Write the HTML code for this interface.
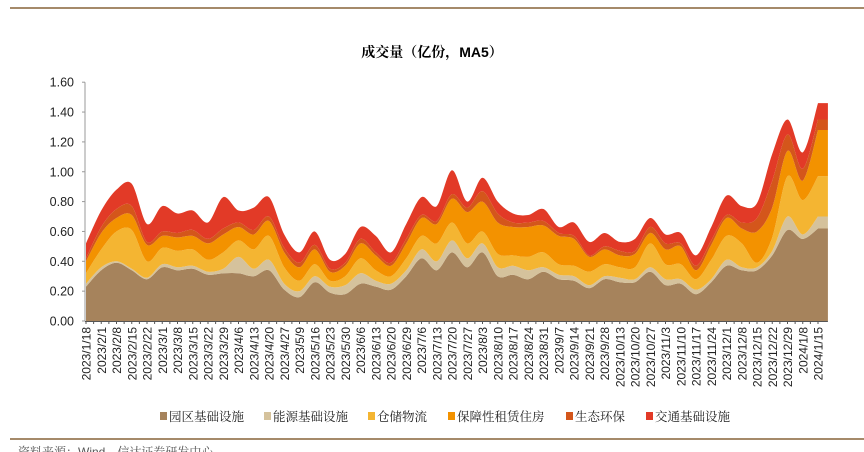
<!DOCTYPE html>
<html><head><meta charset="utf-8"><style>
html,body{margin:0;padding:0;background:#fff;}
body{width:864px;height:452px;overflow:hidden;position:relative;font-family:"Liberation Sans","Noto Sans CJK SC",sans-serif;}
</style></head><body>
<svg id="chart" width="864" height="452" xmlns="http://www.w3.org/2000/svg" style="position:absolute;left:0;top:0">
<line x1="10" y1="8" x2="864" y2="8" stroke="#A58A6A" stroke-width="2"/>
<text x="432" y="57" text-anchor="middle" font-size="14" font-weight="bold" font-family="'Liberation Sans','Noto Serif CJK SC',serif">成交量（亿份，MA5）</text>
<g id="plot"></g>
<g id="axes"></g>
<g id="legend"></g>
<line x1="10" y1="439" x2="864" y2="439" stroke="#A58A6A" stroke-width="2"/>
<text x="18" y="456" font-size="12" fill="#555" font-family="'Liberation Sans','Noto Serif CJK SC',serif">资料来源：Wind，信达证券研发中心</text>
</svg>
<script>
const categories=["2023/1/18","2023/2/1","2023/2/8","2023/2/15","2023/2/22","2023/3/1","2023/3/8","2023/3/15","2023/3/22","2023/3/29","2023/4/6","2023/4/13","2023/4/20","2023/4/27","2023/5/9","2023/5/16","2023/5/23","2023/5/30","2023/6/6","2023/6/13","2023/6/20","2023/6/29","2023/7/6","2023/7/13","2023/7/20","2023/7/27","2023/8/3","2023/8/10","2023/8/17","2023/8/24","2023/8/31","2023/9/7","2023/9/14","2023/9/21","2023/9/28","2023/10/13","2023/10/20","2023/10/27","2023/11/3","2023/11/10","2023/11/17","2023/11/24","2023/12/1","2023/12/8","2023/12/15","2023/12/22","2023/12/29","2024/1/8","2024/1/15"];
const seriesNames=["园区基础设施","能源基础设施","仓储物流","保障性租赁住房","生态环保","交通基础设施"];
const seriesColors=["#A6835C","#D5C29C","#F4B532","#F39200","#D4561B","#E23A27"];
const parkValues=[0.23,0.34,0.39,0.34,0.28,0.36,0.34,0.35,0.31,0.32,0.32,0.30,0.34,0.21,0.16,0.26,0.19,0.18,0.25,0.23,0.21,0.30,0.42,0.34,0.46,0.36,0.46,0.30,0.31,0.28,0.33,0.28,0.27,0.22,0.28,0.26,0.26,0.33,0.24,0.25,0.18,0.26,0.37,0.34,0.34,0.44,0.61,0.55,0.62];
const energyValues=[0.02,0.02,0.01,0.01,0.01,0.02,0.02,0.02,0.02,0.03,0.11,0.05,0.07,0.04,0.04,0.04,0.04,0.06,0.07,0.04,0.04,0.04,0.06,0.06,0.08,0.06,0.06,0.06,0.06,0.06,0.03,0.03,0.03,0.02,0.02,0.03,0.02,0.03,0.04,0.03,0.03,0.02,0.04,0.02,0.02,0.03,0.09,0.03,0.08];
const warehouseValues=[0.07,0.12,0.20,0.26,0.11,0.11,0.11,0.11,0.08,0.11,0.11,0.13,0.16,0.11,0.07,0.08,0.04,0.06,0.10,0.07,0.05,0.08,0.09,0.12,0.12,0.10,0.08,0.09,0.07,0.09,0.10,0.07,0.07,0.09,0.08,0.07,0.08,0.16,0.10,0.10,0.07,0.13,0.16,0.16,0.03,0.09,0.27,0.23,0.27];
const housingValues=[0.08,0.11,0.09,0.10,0.11,0.08,0.09,0.09,0.11,0.12,0.09,0.10,0.10,0.10,0.09,0.10,0.06,0.07,0.10,0.10,0.07,0.10,0.12,0.13,0.16,0.21,0.20,0.21,0.19,0.20,0.18,0.19,0.18,0.10,0.10,0.08,0.09,0.07,0.10,0.12,0.06,0.10,0.12,0.10,0.21,0.20,0.17,0.13,0.31];
const ecoValues=[0.02,0.04,0.06,0.06,0.02,0.03,0.03,0.04,0.03,0.04,0.03,0.03,0.03,0.03,0.03,0.03,0.02,0.02,0.03,0.02,0.02,0.03,0.02,0.02,0.03,0.03,0.07,0.06,0.03,0.03,0.03,0.02,0.02,0.01,0.02,0.03,0.02,0.04,0.04,0.02,0.03,0.03,0.02,0.04,0.09,0.18,0.11,0.08,0.07];
const transportValues=[0.10,0.11,0.13,0.15,0.12,0.17,0.13,0.13,0.11,0.21,0.08,0.15,0.13,0.09,0.07,0.09,0.06,0.06,0.08,0.11,0.07,0.10,0.12,0.10,0.16,0.04,0.09,0.08,0.06,0.05,0.08,0.04,0.09,0.09,0.09,0.06,0.08,0.06,0.06,0.07,0.07,0.09,0.13,0.11,0.10,0.18,0.10,0.11,0.11];
const yTicks=[0,0.2,0.4,0.6,0.8,1.0,1.2,1.4,1.6];
const yTickLabels=["0.00","0.20","0.40","0.60","0.80","1.00","1.20","1.40","1.60"];

const NS="http://www.w3.org/2000/svg";
const X0=86,DX=15.25,Y0=321,YMAX_PX=82.2,YMAX=1.6;
function xScale(i){return X0+DX*i;}
function yScale(v){return Y0-(v/YMAX)*(Y0-YMAX_PX);}
function mk(tag,attrs,parent){const e=document.createElementNS(NS,tag);for(const k in attrs)e.setAttribute(k,attrs[k]);parent.appendChild(e);return e;}
function spline(pts){
  let d="";
  for(let i=0;i<pts.length-1;i++){
    const p0=pts[Math.max(0,i-1)],p1=pts[i],p2=pts[i+1],p3=pts[Math.min(pts.length-1,i+2)];
    const k=0.16;
    const c1=[p1[0]+(p2[0]-p0[0])*k,p1[1]+(p2[1]-p0[1])*k];
    const c2=[p2[0]-(p3[0]-p1[0])*k,p2[1]-(p3[1]-p1[1])*k];
    d+=" C"+c1[0].toFixed(2)+","+c1[1].toFixed(2)+" "+c2[0].toFixed(2)+","+c2[1].toFixed(2)+" "+p2[0].toFixed(2)+","+p2[1].toFixed(2);
  }
  return d;
}

const series=[parkValues,energyValues,warehouseValues,housingValues,ecoValues,transportValues];
const plot=document.getElementById('plot');
const n=categories.length;
const xEnd=n-1+0.65;
let base=new Array(n).fill(0);
series.forEach((vals,s)=>{
  const top=base.map((b,i)=>b+vals[i]);
  const tp=top.map((v,i)=>[xScale(i),yScale(v)]);
  const bp=base.map((v,i)=>[xScale(i),yScale(v)]).reverse();
  let d="M"+tp[0][0]+","+tp[0][1].toFixed(2)+spline(tp);
  d+=" L"+xScale(xEnd).toFixed(2)+","+yScale(top[n-1]).toFixed(2);
  d+=" L"+xScale(xEnd).toFixed(2)+","+yScale(base[n-1]).toFixed(2);
  d+=" L"+bp[0][0].toFixed(2)+","+bp[0][1].toFixed(2)+spline(bp);
  d+=" Z";
  const p=mk('path',{d:d,fill:seriesColors[s]},plot);
  
  
  base=top;
});

const axes=document.getElementById('axes');
const ya=mk('line',{x1:85,y1:yScale(YMAX),x2:85,y2:Y0,stroke:'#999','stroke-width':1},axes);


const xa=mk('line',{x1:85,y1:Y0+0.5,x2:xScale(xEnd),y2:Y0+0.5,stroke:'#555','stroke-width':1},axes);


yTicks.forEach((v,i)=>{
  const y=yScale(v);
  mk('line',{x1:82,y1:y,x2:85,y2:y,stroke:'#999'},axes);
  const t=mk('text',{x:74,y:y+4.5,'text-anchor':'end','font-size':12.5,fill:'#222'},axes);
  t.textContent=yTickLabels[i];
  
  
});
for(let i=0;i<n;i++){
  const x=xScale(i);
  mk('line',{x1:x,y1:Y0,x2:x,y2:Y0+3,stroke:'#555'},axes);
  if(i<n-1)mk('line',{x1:x+DX/2,y1:Y0,x2:x+DX/2,y2:Y0+3,stroke:'#555'},axes);
  const t=mk('text',{x:0,y:0,'text-anchor':'end','font-size':12,fill:'#222',transform:'translate('+(x+4.5)+',327) rotate(-90)'},axes);
  t.textContent=categories[i];
  
  
}

const legend=document.getElementById('legend');
const lx=[160,264,368,448,566,646];
seriesNames.forEach((nm,i)=>{
  const g=mk('g',{},legend);
  
  
  mk('rect',{x:lx[i],y:412,width:7,height:8,fill:seriesColors[i]},g);
  const t=mk('text',{x:lx[i]+9,y:421,'font-size':12.5,fill:'#222','font-family':"'Liberation Serif','Noto Serif CJK SC',serif"},g);
  t.textContent=nm;
});
</script>
</body></html>
